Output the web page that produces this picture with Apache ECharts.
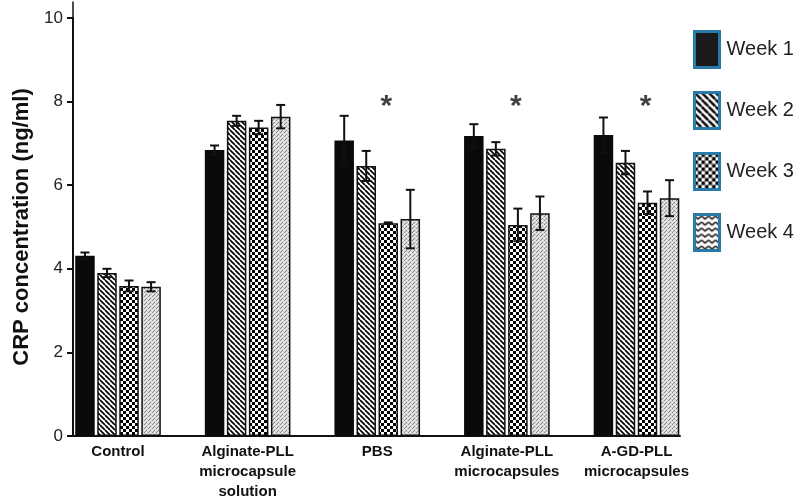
<!DOCTYPE html>
<html>
<head>
<meta charset="utf-8">
<script src="https://cdn.jsdelivr.net/npm/echarts@6/dist/echarts.min.js"></script>
<style>
html,body{margin:0;padding:0;background:#fff;}
#chart{width:799px;height:502px;}
</style>
</head>
<body>
<div id="chart"></div>
<script>
// ---- data ----
const categories = ['Control', 'Alginate-PLL\nmicrocapsule\nsolution', 'PBS', 'Alginate-PLL\nmicrocapsules', 'A-GD-PLL\nmicrocapsules'];
const weekNames = ['Week 1', 'Week 2', 'Week 3', 'Week 4'];
const week1 = [4.31, 6.84, 7.07, 7.18, 7.20];
const week2 = [3.90, 7.54, 6.46, 6.87, 6.54];
const week3 = [3.59, 7.38, 5.09, 5.05, 5.58];
const week4 = [3.57, 7.64, 5.19, 5.33, 5.69];
const err1 = [0.08, 0.11, 0.59, 0.28, 0.42];
const err2 = [0.10, 0.12, 0.36, 0.16, 0.28];
const err3 = [0.13, 0.16, 0.02, 0.39, 0.27];
const err4 = [0.11, 0.28, 0.70, 0.40, 0.43];
const starCategories = [2, 3, 4];
const starValue = 7.97;
const yTicks = {min: 0, max: 10, interval: 2};

// ---- patterns ----
function tile(w, h, draw) {
  const c = document.createElement('canvas');
  c.width = w; c.height = h;
  const ctx = c.getContext('2d');
  ctx.fillStyle = '#fff';
  ctx.fillRect(0, 0, w, h);
  draw(ctx, w, h);
  return {image: c, repeat: 'repeat'};
}
function stripes(s, lw) {
  return tile(s, s, (ctx) => {
    ctx.strokeStyle = '#000'; ctx.lineWidth = lw;
    ctx.beginPath();
    for (let k = -1; k <= 1; k++) {
      ctx.moveTo(k * s, 0); ctx.lineTo(k * s + s, s);
    }
    ctx.stroke();
  });
}
function checker(cs) {
  return tile(cs * 2, cs * 2, (ctx) => {
    ctx.fillStyle = '#000';
    ctx.fillRect(0, 0, cs, cs);
    ctx.fillRect(cs, cs, cs, cs);
  });
}
function zigzag(w, h, lw, col) {
  return tile(w, h, (ctx) => {
    ctx.strokeStyle = col; ctx.lineWidth = lw;
    ctx.beginPath();
    ctx.moveTo(0, h * 0.25); ctx.lineTo(w / 2, h * 0.75); ctx.lineTo(w, h * 0.25);
    ctx.stroke();
  });
}
function stipple() {
  return tile(4, 4, (ctx) => {
    ctx.fillStyle = '#d8d8d8';
    ctx.fillRect(0, 0, 4, 4);
    ctx.fillStyle = '#8a8a8a';
    ctx.fillRect(0, 0, 1, 1);
    ctx.fillRect(2, 2, 1, 1);
    ctx.fillRect(1, 3, 1, 1);
    ctx.fillStyle = '#f4f4f4';
    ctx.fillRect(2, 0, 1, 1);
    ctx.fillRect(0, 2, 1, 1);
  });
}
const barFills = ['#0a0a0a', stripes(5, 1.7), checker(3), stipple()];
const legendFills = ['#1a1a1a', stripes(7, 2.4), checker(3.5), zigzag(7, 6, 1.6, '#111')];

const values = [week1, week2, week3, week4];
const errs = [err1, err2, err3, err4];

const BAR_W = 19.5;
const BAR_GAP = 0.13;

const series = [];
values.forEach((vals, k) => {
  series.push({
    name: weekNames[k],
    type: 'bar',
    xAxisIndex: 0, yAxisIndex: 0,
    barWidth: BAR_W,
    barGap: (BAR_GAP * 100) + '%',
    data: vals,
    itemStyle: {
      color: barFills[k],
      borderColor: '#111',
      borderWidth: k === 0 ? 0 : 1.5
    },
    z: 2
  });
});
values.forEach((vals, k) => {
  series.push({
    type: 'custom',
    xAxisIndex: 0, yAxisIndex: 0,
    data: vals.map((v, i) => [i, v, errs[k][i]]),
    z: 4,
    silent: true,
    renderItem: function (params, api) {
      const i = api.value(0), v = api.value(1), e = api.value(2);
      const total = 4 * BAR_W + 3 * BAR_GAP * BAR_W;
      const c = api.coord([i, v]);
      const x = c[0] - total / 2 + k * BAR_W * (1 + BAR_GAP) + BAR_W / 2;
      const yt = api.coord([i, v + e])[1];
      const yb = api.coord([i, v - e])[1];
      const cap = 4.5;
      const st = {stroke: '#111', lineWidth: 2};
      return {
        type: 'group',
        children: [
          {type: 'line', shape: {x1: x, y1: yt, x2: x, y2: yb}, style: st},
          {type: 'line', shape: {x1: x - cap, y1: yt, x2: x + cap, y2: yt}, style: st},
          {type: 'line', shape: {x1: x - cap, y1: yb, x2: x + cap, y2: yb}, style: st}
        ]
      };
    }
  });
});
series.push({
  type: 'scatter',
  xAxisIndex: 0, yAxisIndex: 0,
  symbolSize: 0,
  silent: true,
  data: starCategories.map(i => [i, starValue]),
  label: {
    show: true, formatter: '*', position: 'inside',
    offset: [9, 4],
    fontSize: 30, fontWeight: 'bold', color: '#111',
    fontFamily: 'Liberation Sans'
  },
  z: 5
});

const chart = echarts.init(document.getElementById('chart'), null, {renderer: 'canvas'});
chart.setOption({
  animation: false,
  backgroundColor: '#fff',
  textStyle: {fontFamily: 'Liberation Sans'},
  legend: {
    orient: 'vertical',
    left: 693, top: 30,
    itemWidth: 25, itemHeight: 36, itemGap: 22,
    icon: 'rect',
    selectedMode: false,
    padding: 0,
    textStyle: {fontSize: 20, color: '#222', fontFamily: 'Liberation Sans', padding: [0, 0, 0, 2]},
    data: weekNames.map((n, k) => ({
      name: n,
      itemStyle: {color: legendFills[k], borderColor: '#2a7aa8', borderWidth: 3}
    }))
  },
  grid: [
    {left: 53.2, right: 97.7, top: 18, bottom: 66},
    {left: 73, right: 119, top: 18, bottom: 66},
    {left: 73, right: 119, top: 2, bottom: 66}
  ],
  xAxis: [
    {
      type: 'category', gridIndex: 0, data: categories,
      axisLine: {show: false}, axisTick: {show: false},
      axisLabel: {
        interval: 0, margin: 6, fontSize: 15, fontWeight: 'bold',
        color: '#111', lineHeight: 20, fontFamily: 'Liberation Sans'
      }
    },
    {
      type: 'value', gridIndex: 1, min: 0, max: 1,
      axisLine: {show: true, lineStyle: {color: '#111', width: 2}},
      axisTick: {show: false}, axisLabel: {show: false}, splitLine: {show: false}
    },
    {type: 'value', gridIndex: 2, min: 0, max: 1, show: false}
  ],
  yAxis: [
    {type: 'value', gridIndex: 0, min: yTicks.min, max: yTicks.max, interval: yTicks.interval, show: false},
    {
      type: 'value', gridIndex: 1, min: yTicks.min, max: yTicks.max, interval: yTicks.interval,
      name: 'CRP concentration (ng/ml)', nameLocation: 'middle', nameGap: 40,
      nameTextStyle: {fontSize: 22, fontWeight: 'bold', color: '#111', fontFamily: 'Liberation Sans'},
      axisLine: {show: true, lineStyle: {color: '#111', width: 2}},
      axisTick: {show: true, inside: false, length: 6, lineStyle: {color: '#111', width: 2}},
      axisLabel: {fontSize: 17, color: '#222', margin: 10, fontFamily: 'Liberation Sans'},
      splitLine: {show: false}
    },
    {
      type: 'value', gridIndex: 2, position: 'right', min: 0, max: 1,
      axisLine: {show: true, lineStyle: {color: '#111', width: 1.5}},
      axisTick: {show: false}, axisLabel: {show: false}, splitLine: {show: false}
    }
  ],
  series: series
});
</script>
</body>
</html>
